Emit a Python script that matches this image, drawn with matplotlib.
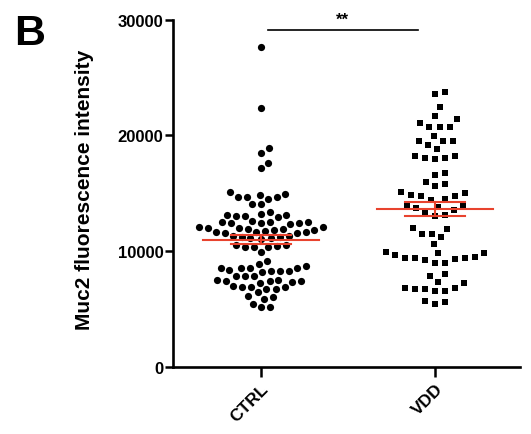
import numpy as np
import matplotlib
matplotlib.use('Agg')
import matplotlib.pyplot as plt

plt.rcParams['font.family'] = ['Liberation Sans', 'DejaVu Sans']

# ---------------- data ----------------
groups = ['CTRL', 'VDD']
ctrl = [27660, 22390, 18900, 18520, 17630, 17170,
        14950, 14670, 14060, 14670, 14520, 14670, 14060, 14870, 15100,
        13220, 13370,
        13140, 13080, 12620, 12500, 12500, 12450, 12360, 12450, 12450, 12560, 12940, 13080, 13140,
        12100, 12050, 11930, 11850, 11750, 11650, 11600, 11600, 11650, 11700, 11800, 11930, 12050, 12100,
        11320, 11200, 11100, 11060, 11100, 11200, 11300,
        10540, 10450, 10400, 10370, 10400, 10500,
        9910, 9190,
        8900, 8530, 8530, 8380, 8320, 8180, 8320, 8320, 8530, 8530, 8760,
        7840, 7550, 7460, 7370, 7890, 7840, 7260, 7460, 7460, 7550,
        6890, 6740, 7030, 6740, 6890, 6890,
        6450, 6020, 6110, 5880,
        5450, 5160, 5160]
vdd = [23740, 23600, 22450, 21430, 21670, 20770, 21090, 20710, 20770, 19990,
       19560, 19190, 19560, 19560, 18840, 18210, 18060, 17980, 18060, 18210,
       16740, 16590, 15960, 15620, 15820,
       15010, 14750, 14520, 14460, 14750, 14890, 15100,
       14020, 13720, 13580, 13850, 13900, 13310, 13020, 13140,
       11930, 11500, 11210, 11500, 11990, 10630, 9970,
       9830, 9540, 9390, 9330, 8990, 8990, 9250, 9390, 9420, 9700, 9830,
       7890, 8040, 7370, 6830, 6740, 6600, 6540, 6740, 6800, 7230,
       5680, 5450, 5650]
y_ticks = [0, 10000, 20000, 30000]
y_label = 'Muc2 fluorescence intensity'
panel_label = 'B'
sig_text = '**'

# ---------------- figure ----------------
W, H = 531, 435
fig = plt.figure(figsize=(W / 100, H / 100), dpi=100)
ax_l, ax_r, ax_t, ax_b = 173, 520, 20.7, 368
ax = fig.add_axes([ax_l / W, 1 - ax_b / H, (ax_r - ax_l) / W, (ax_b - ax_t) / H])
xmin, xmax = -0.506, 1.489
ax.set_xlim(xmin, xmax)
ax.set_ylim(0, 30000)

px_x = (ax_r - ax_l) / (xmax - xmin)
px_y = (ax_b - ax_t) / 30000.0


def swarm(vals, d_px):
    vals = np.asarray(vals, float)
    order = np.argsort(vals, kind='stable')
    placed = []
    offs = np.zeros(len(vals))
    for i in order:
        y = vals[i] * px_y
        cands = [0.0]
        for xp, yp in placed:
            dy = y - yp
            if abs(dy) < d_px:
                dx = np.sqrt(d_px ** 2 - dy ** 2)
                cands += [xp + dx, xp - dx]
        cands.sort(key=abs)
        chosen = 0.0
        for c in cands:
            if all((c - xp) ** 2 + (y - yp) ** 2 >= d_px ** 2 - 1e-6 for xp, yp in placed):
                chosen = c
                break
        placed.append((chosen, y))
        offs[i] = chosen / px_x
    return offs


red = '#E8432E'
for gi, (vals, mk, ms, dpx) in enumerate([(ctrl, 'o', 5.2, 8.9), (vdd, 's', 4.6, 10.2)]):
    offs = swarm(vals, dpx)
    ax.plot(gi + offs, vals, mk, ms=ms, color='black', mew=0, ls='none', zorder=3)
    v = np.asarray(vals, float)
    m = v.mean()
    sem = v.std(ddof=1) / np.sqrt(len(v))
    ax.plot([gi - 0.333, gi + 0.333], [m, m], color=red, lw=1.5, zorder=4)
    ax.plot([gi - 0.17, gi + 0.17], [m + sem, m + sem], color=red, lw=1.5, zorder=4)
    ax.plot([gi - 0.17, gi + 0.17], [m - sem, m - sem], color=red, lw=1.5, zorder=4)
    ax.plot([gi, gi], [m - sem, m + sem], color=red, lw=1.5, zorder=4)

# significance
ax.plot([0.04, 0.90], [29150, 29150], color='black', lw=1.2, clip_on=False)
ax.text(0.47, 29350, sig_text, ha='center', va='bottom', fontsize=12,
        fontweight='bold', clip_on=False)

# axes styling
for s in ['top', 'right']:
    ax.spines[s].set_visible(False)
for s in ['left', 'bottom']:
    ax.spines[s].set_linewidth(1.9)
ax.set_yticks(y_ticks)
ax.set_yticklabels([str(t) for t in y_ticks], fontsize=12, fontweight='bold')
ax.tick_params(axis='y', length=6, width=1.8, pad=1)
ax.set_xticks(range(len(groups)))
ax.set_xticklabels(groups, fontsize=12.5, fontweight='bold', rotation=45,
                   ha='right', rotation_mode='anchor')
ax.tick_params(axis='x', length=7, width=1.8, pad=3)

fig.text(85 / W, 1 - 190 / H, y_label, rotation=90, ha='center', va='center',
         fontsize=15, fontweight='bold')
fig.text(14 / W, 1 - 34 / H, panel_label, ha='left', va='center',
         fontsize=31, fontweight='bold')

fig.savefig('out.png', dpi=100)
